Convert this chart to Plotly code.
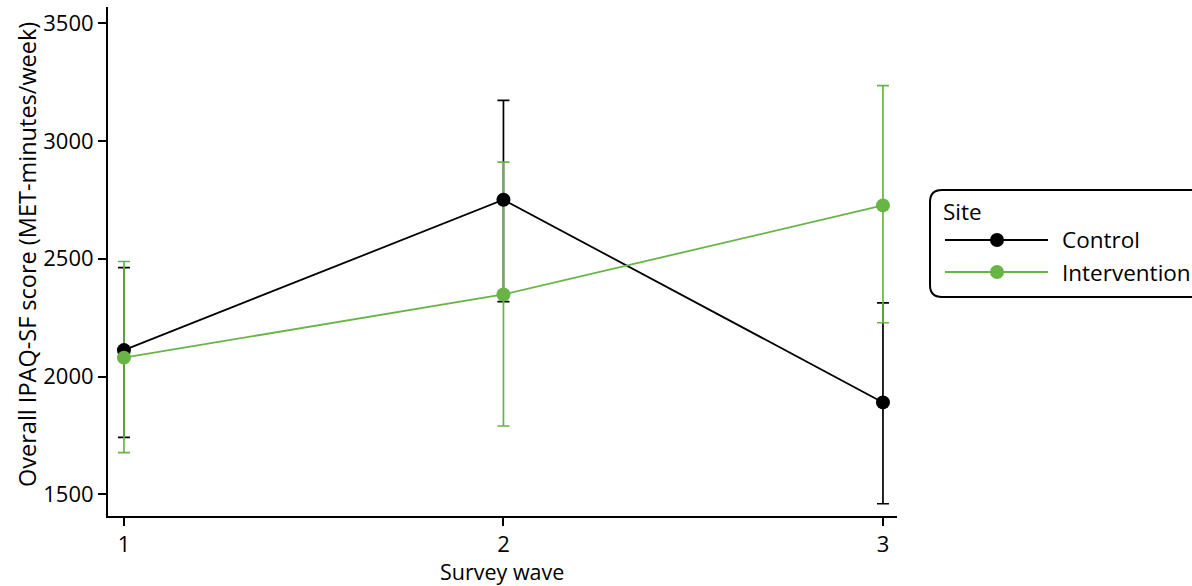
import plotly.graph_objects as go

waves = [1, 2, 3]
control_mean = [2112, 2750, 1890]
control_lo = [1742, 2318, 1460]
control_hi = [2462, 3172, 2312]
interv_mean = [2080, 2348, 2726]
interv_lo = [1677, 1790, 2228]
interv_hi = [2488, 2910, 3234]
series_names = ["Control", "Intervention"]
yticks = [1500, 2000, 2500, 3000, 3500]
x_title = "Survey wave"
y_title = "Overall IPAQ-SF score (MET-minutes/week)"
legend_title = "Site"

BLACK = "#000000"
GREEN = "#68b546"
FONT = "Open Sans"

W, H = 1192, 586
L, R, T, B = 108, 897, 7, 516  # plot area in px


def px(xp):
    return (xp - L) / (R - L)


def py(yp):
    return (B - yp) / (B - T)


fig = go.Figure()


def err_trace(mean, lo, hi, color):
    return go.Scatter(
        x=waves, y=mean, mode="markers",
        marker=dict(size=1, color="rgba(0,0,0,0)"),
        error_y=dict(type="data", symmetric=False,
                     array=[h - m for h, m in zip(hi, mean)],
                     arrayminus=[m - l for m, l in zip(mean, lo)],
                     color=color, thickness=1.7, width=6),
        showlegend=False, hoverinfo="skip")


fig.add_trace(err_trace(control_mean, control_lo, control_hi, BLACK))
fig.add_trace(err_trace(interv_mean, interv_lo, interv_hi, GREEN))
fig.add_trace(go.Scatter(x=waves, y=control_mean, mode="lines+markers", name=series_names[0],
                         line=dict(color=BLACK, width=1.8),
                         marker=dict(size=14, color=BLACK), showlegend=False))
fig.add_trace(go.Scatter(x=waves, y=interv_mean, mode="lines+markers", name=series_names[1],
                         line=dict(color=GREEN, width=1.8),
                         marker=dict(size=14, color=GREEN), showlegend=False))

# manual legend (rounded box)
bx0, bx1, by0, by1, rr = 930, 1210, 190, 297, 12
path = (f"M {px(bx0 + rr)},{py(by0)} L {px(bx1 - rr)},{py(by0)} "
        f"Q {px(bx1)},{py(by0)} {px(bx1)},{py(by0 + rr)} "
        f"L {px(bx1)},{py(by1 - rr)} Q {px(bx1)},{py(by1)} {px(bx1 - rr)},{py(by1)} "
        f"L {px(bx0 + rr)},{py(by1)} Q {px(bx0)},{py(by1)} {px(bx0)},{py(by1 - rr)} "
        f"L {px(bx0)},{py(by0 + rr)} Q {px(bx0)},{py(by0)} {px(bx0 + rr)},{py(by0)} Z")
shapes = [dict(type="path", xref="paper", yref="paper", path=path,
               line=dict(color=BLACK, width=2), fillcolor="white", layer="below")]
annotations = [dict(text=legend_title, xref="paper", yref="paper", x=px(941), y=py(212),
                    xanchor="left", yanchor="middle", showarrow=False,
                    font=dict(family=FONT, size=22.5, color=BLACK)),
               dict(text=x_title, xref="paper", yref="paper", x=px(502), y=py(571),
                    xanchor="center", yanchor="middle", showarrow=False,
                    font=dict(family=FONT, size=21.5, color=BLACK)),
               dict(text=y_title, xref="paper", yref="paper", x=px(27), y=py(255),
                    xanchor="center", yanchor="middle", showarrow=False, textangle=-90,
                    font=dict(family=FONT, size=23.5, color=BLACK))]
for name, col, yy in [(series_names[0], BLACK, 240), (series_names[1], GREEN, 272)]:
    shapes.append(dict(type="line", xref="paper", yref="paper",
                       x0=px(945), x1=px(1048), y0=py(yy), y1=py(yy),
                       line=dict(color=col, width=1.8)))
    shapes.append(dict(type="circle", xref="paper", yref="paper",
                       x0=px(990), x1=px(1004), y0=py(yy + 7), y1=py(yy - 7),
                       fillcolor=col, line=dict(color=col, width=0)))
    annotations.append(dict(text=name, xref="paper", yref="paper", x=px(1060), y=py(yy),
                            xanchor="left", yanchor="middle", showarrow=False,
                            font=dict(family=FONT, size=22.5, color=BLACK)))

fig.update_layout(
    width=W, height=H,
    margin=dict(l=L, r=W - R, t=T, b=H - B, pad=0, autoexpand=False),
    plot_bgcolor="white", paper_bgcolor="white",
    font=dict(family=FONT, size=22, color=BLACK),
    shapes=shapes, annotations=annotations,
    showlegend=False,
)
fig.update_xaxes(range=[0.958, 3.037], tickvals=waves, ticktext=[str(w) for w in waves],
                 showgrid=False, zeroline=False, showline=True, linecolor=BLACK, linewidth=2,
                 ticks="outside", ticklen=8, tickwidth=1.5, tickcolor=BLACK,
                 tickfont=dict(size=22), automargin=False)
fig.update_yaxes(range=[1408, 3568], tickvals=yticks, ticktext=[str(v) for v in yticks],
                 showgrid=False, zeroline=False, showline=True, linecolor=BLACK, linewidth=2,
                 ticks="outside", ticklen=8, tickwidth=1.5, tickcolor=BLACK,
                 tickfont=dict(size=22), automargin=False)

fig.write_html("out.html", config={"displayModeBar": False},
               post_script="document.body.style.margin='0';")
